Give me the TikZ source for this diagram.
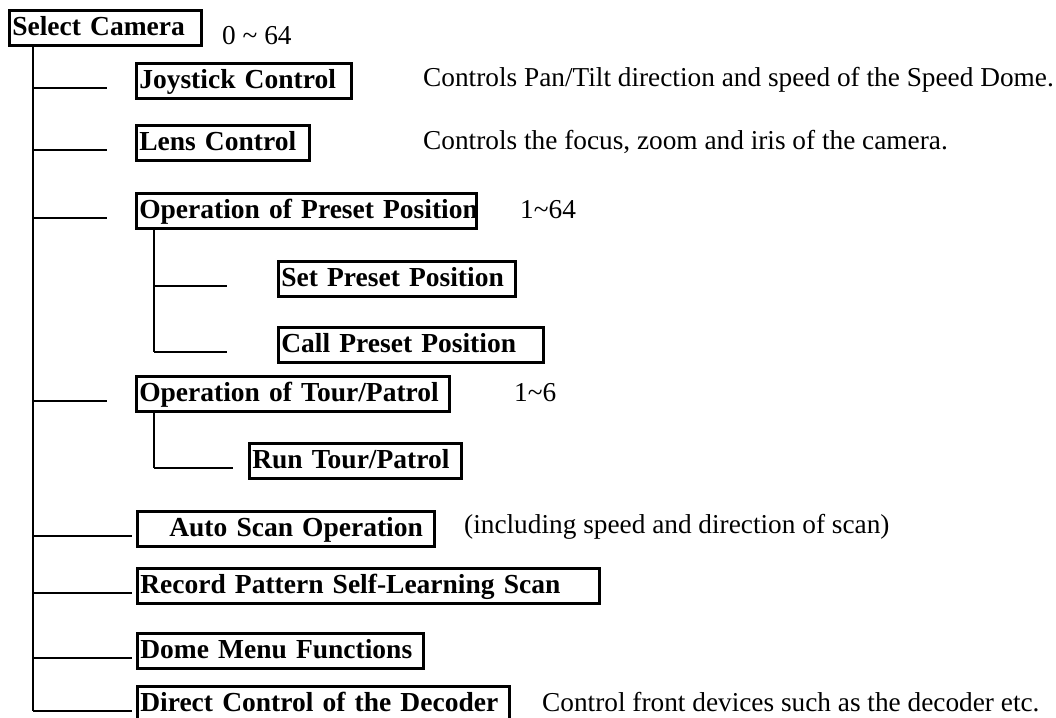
\documentclass[tikz,border=0pt]{standalone}
\usepackage{fontspec}
\setmainfont{Liberation Serif}
\begin{document}
\begin{tikzpicture}[x=1pt,y=-1pt,
  line/.style={line width=1.8pt},
  box/.style={draw, line width=2.6pt, anchor=north west, align=left, inner xsep=3pt, inner ysep=0pt, minimum height=35pt, text height=20pt, text depth=5pt, font=\fontsize{27.5}{32}\selectfont\bfseries},
  note/.style={anchor=west, inner sep=0pt, font=\fontsize{27.3}{32}\selectfont}]
\useasboundingbox (0,0) rectangle (1056,717);
% menu boxes
\node[box, text width=186pt] (sel) at (8,9) {\mbox{Select Camera}};
\node[box, text width=209pt] (joy) at (135,62) {\mbox{Joystick Control}};
\node[box, text width=167pt] (lens) at (135,124) {\mbox{Lens Control}};
\node[box, text width=334pt] (pre) at (135,192) {\mbox{Operation of Preset Position}};
\node[box, text width=231pt] (set) at (277,260) {\mbox{Set Preset Position}};
\node[box, text width=259pt] (call) at (277,326) {\mbox{Call Preset Position}};
\node[box, text width=307pt] (tour) at (135,375) {\mbox{Operation of Tour/Patrol}};
\node[box, text width=206pt] (run) at (248,442) {\mbox{Run Tour/Patrol}};
\node[box, text width=291pt] (auto) at (136,510) {\mbox{\hspace*{29pt}Auto Scan Operation}};
\node[box, text width=456pt] (rec) at (136,567) {\mbox{Record Pattern Self-Learning Scan}};
\node[box, text width=280pt] (dome) at (136,632) {\mbox{Dome Menu Functions}};
\node[box, text width=366pt] (dir) at (136,685) {\mbox{Direct Control of the Decoder}};
% notes
\node[note] (selnote) at (222,36) {0 \textasciitilde{} 64};
\node[note] (joynote) at (423,80) {Controls Pan/Tilt direction and speed of the Speed Dome.};
\node[note] (lensnote) at (423,142) {Controls the focus, zoom and iris of the camera.};
\node[note] (prenote) at (520,210) {1\textasciitilde64};
\node[note] (tournote) at (514,393) {1\textasciitilde6};
\node[note] (autonote) at (464,527) {(including speed and direction of scan)};
\node[note] (dirnote) at (542,702) {Control front devices such as the decoder etc.};
% tree lines
\coordinate (top) at ([xshift=25pt]sel.south west);
\coordinate (ptop) at ([xshift=19pt]pre.south west);
\coordinate (ttop) at ([xshift=19pt]tour.south west);
\foreach \n in {joy,lens,pre,tour,auto,rec,dome,dir,set,call,run}
  \coordinate (b\n) at ([yshift=-7pt]\n.west);
\draw [line] (top) -- (top |- bdir);
\foreach \n in {joy,lens,pre,tour}
  \draw [line] (top |- b\n) -- ++(74,0);
\foreach \n in {auto,rec,dome,dir}
  \draw [line] (top |- b\n) -- ++(99,0);
\draw [line] (ptop) -- (ptop |- bcall);
\draw [line] (ptop |- bset) -- ++(73,0);
\draw [line] (ptop |- bcall) -- ++(73,0);
\draw [line] (ttop) -- (ttop |- brun);
\draw [line] (ttop |- brun) -- ++(79,0);
\end{tikzpicture}
\end{document}
